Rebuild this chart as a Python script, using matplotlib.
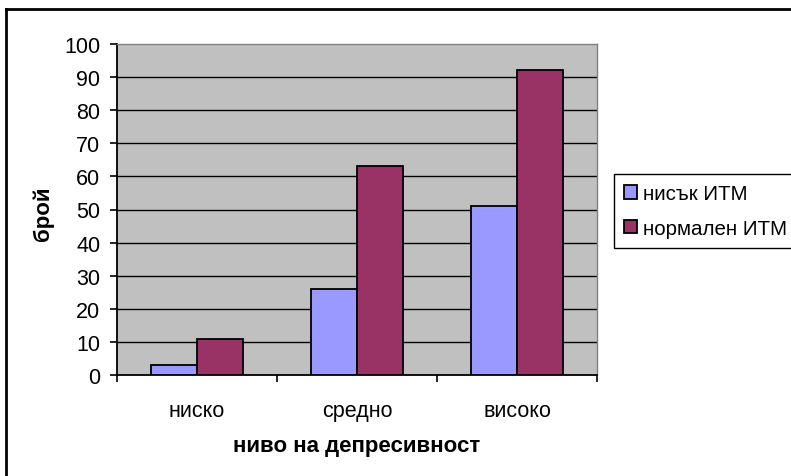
import matplotlib
matplotlib.use("Agg")
import matplotlib.pyplot as plt
import numpy as np
from matplotlib.lines import Line2D

plt.rcParams['font.family'] = ['Liberation Sans', 'DejaVu Sans']

categories = ['ниско', 'средно', 'високо']
series_names = ['нисък ИТМ', 'нормален ИТМ']
low_bmi = [3, 26, 51]
normal_bmi = [11, 63, 92]
y_ticks = [0, 10, 20, 30, 40, 50, 60, 70, 80, 90, 100]
colors = ['#9999FF', '#993366']

W, H = 791, 477
fig = plt.figure(figsize=(W / 100, H / 100), dpi=100)
fig.patch.set_facecolor('white')

# outer chart border (top and left visible)
fig.add_artist(Line2D([6 / W, 6 / W], [0, 1 - 10 / H], transform=fig.transFigure, color='black', lw=2))
fig.add_artist(Line2D([6 / W, 1], [1 - 10 / H, 1 - 10 / H], transform=fig.transFigure, color='black', lw=2))

left, right, top, bottom = 117, 597, 45, 376
ax = fig.add_axes([left / W, 1 - bottom / H, (right - left) / W, (bottom - top) / H])
ax.set_facecolor('#C0C0C0')

x = np.arange(len(categories))
bw = 1 / 3.5
ax.bar(x - bw / 2, low_bmi, bw, color=colors[0], edgecolor='black', linewidth=1.3, label=series_names[0], zorder=3)
ax.bar(x + bw / 2, normal_bmi, bw, color=colors[1], edgecolor='black', linewidth=1.3, label=series_names[1], zorder=3)

ax.set_xlim(-0.5, len(categories) - 0.5)
ax.set_ylim(0, 100)
ax.set_yticks(y_ticks)
ax.set_yticklabels([str(v) for v in y_ticks], fontsize=15.5)
for v in y_ticks[1:-1]:
    ax.axhline(v, color='black', lw=1, zorder=1)

# x ticks at category boundaries, labels at centres
ax.set_xticks(np.arange(len(categories) + 1) - 0.5)
ax.set_xticklabels([])
ax.set_xticks(x, minor=True)
ax.set_xticklabels(categories, minor=True, fontsize=15.5)
ax.tick_params(axis='x', which='major', length=5, width=1.2, color='black', direction='out')
ax.tick_params(axis='x', which='minor', length=0, pad=18)
ax.tick_params(axis='y', length=5, width=1.2, direction='out', pad=7)

for s in ['top', 'right']:
    ax.spines[s].set_color('#808080')
    ax.spines[s].set_linewidth(1)
for s in ['left', 'bottom']:
    ax.spines[s].set_color('black')
    ax.spines[s].set_linewidth(1.3)

ax.set_ylabel('брой', fontsize=16, fontweight='bold')
ax.yaxis.set_label_coords((43 - left) / (right - left), (bottom - 214) / (bottom - top))
ax.yaxis.label.set_va('center')
ax.set_xlabel('ниво на депресивност', fontsize=16, fontweight='bold')
ax.xaxis.set_label_coords(0.5, -(447 - bottom) / (bottom - top))
ax.xaxis.label.set_va('center')

leg = fig.legend(loc='upper left', bbox_to_anchor=(614 / W, 1 - 175 / H), bbox_transform=fig.transFigure,
                 fontsize=14.8, frameon=True, fancybox=False, edgecolor='black', framealpha=1,
                 handlelength=0.62, handleheight=0.62, handletextpad=0.3, borderpad=0.5,
                 labelspacing=0.75, borderaxespad=0)
leg.get_frame().set_linewidth(1)

fig.savefig('out.png', dpi=100, facecolor='white')
